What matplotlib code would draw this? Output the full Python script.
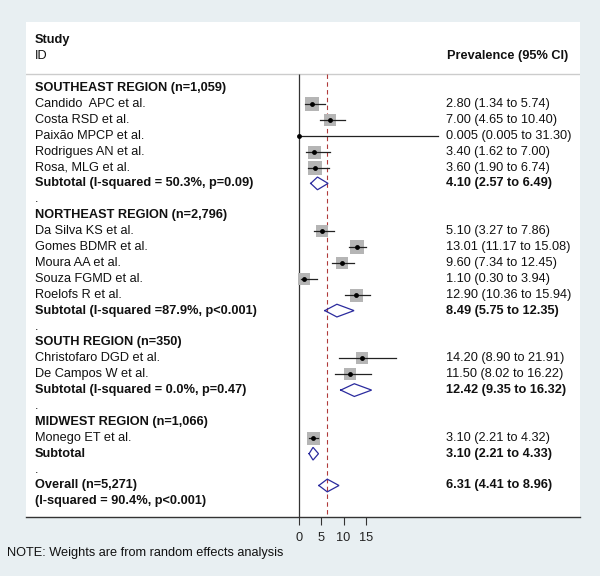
import matplotlib
matplotlib.use("Agg")
import matplotlib.pyplot as plt
import matplotlib.transforms as mtransforms

plt.rcParams['font.family'] = ['Liberation Sans', 'DejaVu Sans']

# ---------------- data ----------------
group_names = ["SOUTHEAST REGION (n=1,059)", "NORTHEAST REGION (n=2,796)",
               "SOUTH REGION (n=350)", "MIDWEST REGION (n=1,066)"]
group_subtotal_labels = ["Subtotal (I-squared = 50.3%, p=0.09)",
                         "Subtotal (I-squared =87.9%, p<0.001)",
                         "Subtotal (I-squared = 0.0%, p=0.47)",
                         "Subtotal"]
studies = [
    ["Candido  APC et al.", "Costa RSD et al.", "Paixão MPCP et al.",
     "Rodrigues AN et al.", "Rosa, MLG et al."],
    ["Da Silva KS et al.", "Gomes BDMR et al.", "Moura AA et al.",
     "Souza FGMD et al.", "Roelofs R et al."],
    ["Christofaro DGD et al.", "De Campos W et al."],
    ["Monego ET et al."],
]
study_est = [[2.80, 7.00, 0.005, 3.40, 3.60],
             [5.10, 13.01, 9.60, 1.10, 12.90],
             [14.20, 11.50],
             [3.10]]
study_lo = [[1.34, 4.65, 0.005, 1.62, 1.90],
            [3.27, 11.17, 7.34, 0.30, 10.36],
            [8.90, 8.02],
            [2.21]]
study_hi = [[5.74, 10.40, 31.30, 7.00, 6.74],
            [7.86, 15.08, 12.45, 3.94, 15.94],
            [21.91, 16.22],
            [4.32]]
study_weight = [[9.0, 7.7, 0.1, 8.5, 9.0],
                [7.7, 9.0, 8.1, 8.1, 8.5],
                [6.4, 7.2],
                [8.5]]
sub_est = [4.10, 8.49, 12.42, 3.10]
sub_lo = [2.57, 5.75, 9.35, 2.21]
sub_hi = [6.49, 12.35, 16.32, 4.33]
overall_est, overall_lo, overall_hi = 6.31, 4.41, 8.96
overall_labels = ["Overall (n=5,271)", "(I-squared = 90.4%, p<0.001)"]
xticks = [0, 5, 10, 15]

# ---------------- layout ----------------
W, H = 600, 576
X0_PX, PX_PER_UNIT = 299.3, 4.43
LEFT_PX, RIGHT_PX, TOP_PX, AXIS_PX = 26, 580, 22, 517
ROW0_PX, ROW_PX = 88, 15.9
HEADER_PX = 74

def row_of(px):
    return (px - ROW0_PX) / ROW_PX

fig = plt.figure(figsize=(W / 100, H / 100), dpi=100)
fig.patch.set_facecolor('#e8eff2')
ax = fig.add_axes([LEFT_PX / W, 1 - AXIS_PX / H, (RIGHT_PX - LEFT_PX) / W,
                   (AXIS_PX - TOP_PX) / H])
ax.set_facecolor('white')
ax.set_xlim((LEFT_PX - X0_PX) / PX_PER_UNIT, (RIGHT_PX - X0_PX) / PX_PER_UNIT)
ymax_row = row_of(AXIS_PX)
ax.set_ylim(ymax_row, row_of(TOP_PX))
for s in ['top', 'left', 'right']:
    ax.spines[s].set_visible(False)
ax.spines['bottom'].set_color('#333333')
ax.spines['bottom'].set_linewidth(1.0)
ax.set_yticks([])
ax.set_xticks(xticks)
ax.set_xticklabels([str(t) for t in xticks])
FS = 9.2
ax.tick_params(axis='x', length=6, width=0.8, color='#333333', labelsize=FS,
               pad=5, labelcolor='#222222')

hdr_row = row_of(HEADER_PX)
ax.axhline(hdr_row, color='#cccccc', lw=1.0)
ax.vlines(0, hdr_row, ymax_row, color='#333333', lw=0.9)
ax.vlines(overall_est, hdr_row, ymax_row, color='#b03a3a', lw=0.8,
          linestyles=(0, (4, 3)))

tl = mtransforms.blended_transform_factory(ax.transAxes, ax.transData)
LX = (35 - LEFT_PX) / (RIGHT_PX - LEFT_PX)
RX = (446 - LEFT_PX) / (RIGHT_PX - LEFT_PX)
HX = (568 - LEFT_PX) / (RIGHT_PX - LEFT_PX)
TXT = '#111111'
DIAM = '#2b2b9e'

def fmt(v):
    return f"{v:.3f}" if v < 0.01 else f"{v:.2f}"

def ci_text(e, l, h):
    return f"{fmt(e)} ({fmt(l)} to {fmt(h)})"

ax.text(LX, row_of(40), "Study", transform=tl, fontsize=FS, fontweight='bold',
        va='center', ha='left', color=TXT)
ax.text(LX, row_of(56), "ID", transform=tl, fontsize=FS, va='center',
        ha='left', color=TXT)
ax.text(HX, row_of(56), "Prevalence (95% CI)", transform=tl, fontsize=FS,
        fontweight='bold', va='center', ha='right', color=TXT)

def diamond(c, lo, hi, row):
    half = 0.4
    ax.plot([lo, c, hi, c, lo], [row, row - half, row, row + half, row],
            color=DIAM, lw=0.9, solid_joinstyle='miter')

row = 0
for g in range(len(group_names)):
    if g > 0:
        ax.text(LX, row, ".", transform=tl, fontsize=FS, va='center',
                ha='left', color=TXT)
        row += 1
    ax.text(LX, row, group_names[g], transform=tl, fontsize=FS,
            fontweight='bold', va='center', ha='left', color=TXT)
    row += 1
    for i, name in enumerate(studies[g]):
        e, l, h, w = study_est[g][i], study_lo[g][i], study_hi[g][i], study_weight[g][i]
        side_px = 13.0 * (w / 8.5) ** 0.5
        ms = side_px * 0.72
        ax.plot([e], [row], marker='s', ms=ms, color='#b5b5b5', mew=0,
                zorder=2)
        ax.plot([l, h], [row, row], color='#222222', lw=0.9, zorder=3)
        ax.plot([e], [row], marker='o', ms=3.5, color='black', mew=0,
                zorder=4)
        ax.text(LX, row, name, transform=tl, fontsize=FS, va='center',
                ha='left', color=TXT)
        ax.text(RX, row, ci_text(e, l, h), transform=tl, fontsize=FS,
                va='center', ha='left', color=TXT)
        row += 1
    diamond(sub_est[g], sub_lo[g], sub_hi[g], row)
    ax.text(LX, row, group_subtotal_labels[g], transform=tl, fontsize=FS,
            fontweight='bold', va='center', ha='left', color=TXT)
    ax.text(RX, row, ci_text(sub_est[g], sub_lo[g], sub_hi[g]), transform=tl,
            fontsize=FS, fontweight='bold', va='center', ha='left', color=TXT)
    row += 1

ax.text(LX, row, ".", transform=tl, fontsize=FS, va='center', ha='left',
        color=TXT)
row += 1
diamond(overall_est, overall_lo, overall_hi, row)
ax.text(LX, row, overall_labels[0], transform=tl, fontsize=FS,
        fontweight='bold', va='center', ha='left', color=TXT)
ax.text(RX, row, ci_text(overall_est, overall_lo, overall_hi), transform=tl,
        fontsize=FS, fontweight='bold', va='center', ha='left', color=TXT)
row += 1
ax.text(LX, row, overall_labels[1], transform=tl, fontsize=FS,
        fontweight='bold', va='center', ha='left', color=TXT)

fig.text(7 / W, 1 - 553 / H, "NOTE: Weights are from random effects analysis",
         fontsize=FS, va='center', ha='left', color=TXT)

fig.savefig("out.png", dpi=100, facecolor=fig.get_facecolor())
